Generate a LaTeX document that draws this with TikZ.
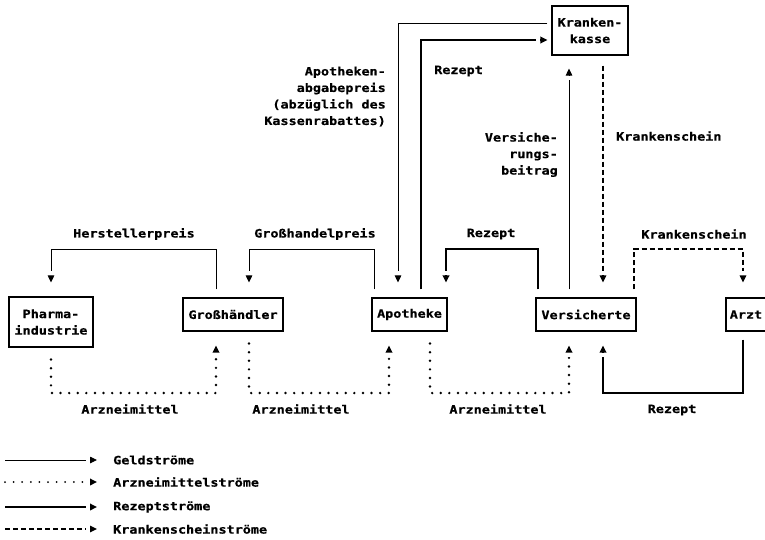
\documentclass[tikz,border=0pt]{standalone}
\usepackage{fontspec}
\newfontfamily\dmfont[FakeStretch=1.17,BoldFeatures={FakeBold=0.7}]{DejaVu Sans Mono}
\usetikzlibrary{arrows.meta}
\begin{document}
\begin{tikzpicture}[x=1pt,y=-1pt,
  every node/.style={font=\dmfont\bfseries\fontsize{11.5}{16.5}\selectfont},
  >={Rectangle[length=4pt,width=0.01pt,color=white] Triangle[length=7pt,width=6.5pt]},
  box/.style={draw,line width=1.1pt,inner sep=0pt,align=center},
  lbl/.style={inner sep=0pt},
  geld/.style={line width=0.9pt,->},
  rez/.style={line width=2.6pt,->},
  arz/.style={line width=2.7pt,line cap=round,dash pattern=on 0pt off 8.6pt,->},
  ks/.style={line width=1.3pt,dash pattern=on 5pt off 3pt,->}]
\useasboundingbox (0,0) rectangle (765,539);

% nodes
\node[box,minimum width=84pt,minimum height=50pt] (ph) at (51,322) {Pharma-\\industrie};
\node[box,minimum width=100pt,minimum height=33pt] (gh) at (233,314.5) {Großhändler};
\node[box,minimum width=75pt,minimum height=33pt] (ap) at (409.5,314.5) {Apotheke};
\node[box,minimum width=100pt,minimum height=33pt] (vs) at (586,314.5) {Versicherte};
\node[box,minimum width=40pt,minimum height=33pt] (az) at (746,314.5) {Arzt};
\node[box,minimum width=76pt,minimum height=49pt] (kk) at (590,30.5) {Kranken-\\kasse};

% helper columns / rows
\coordinate (c216) at (216,0);
\coordinate (c249) at (249,0);
\coordinate (c374) at (374,0);
\coordinate (c389) at (389,0);
\coordinate (c398) at (398,0);
\coordinate (c421) at (421,0);
\coordinate (c430) at (430,0);
\coordinate (c446) at (446,0);
\coordinate (c538) at (538,0);
\coordinate (c569) at (569,0);
\coordinate (c603) at (603,0);
\coordinate (c634) at (634,0);
\coordinate (c743) at (743,0);
\coordinate (r23) at (0,23);
\coordinate (r40) at (0,40);
\coordinate (r249) at (0,249);
\coordinate (r393) at (0,393);

% connectors
\draw[geld,shorten <=8pt,shorten >=14pt] (gh.north -| c216) -- (c216 |- r249) -| (ph.north);
\draw[geld,shorten <=8pt,shorten >=15pt] (ap.north -| c374) -- (c374 |- r249) -| (gh.north -| c249);
\draw[geld,shorten <=4pt,shorten >=15pt] (kk.west |- r23) -| (ap.north -| c398);
\draw[rez,shorten <=8pt,shorten >=4pt] (ap.north -| c421) |- (kk.west |- r40);
\draw[rez,shorten <=8pt,shorten >=15pt] (vs.north -| c538) -- (c538 |- r249) -| (ap.north -| c446);
\draw[geld,shorten <=8pt,shorten >=13pt] (vs.north -| c569) -- (kk.south -| c569);
\draw[ks,shorten <=10pt,shorten >=15pt] (kk.south -| c603) -- (vs.north -| c603);
\draw[ks,shorten <=8pt,shorten >=15pt] (vs.north -| c634) -- (c634 |- r249) -| (az.north -| c743);
\draw[rez,shorten <=8pt,shorten >=14pt] (az.south -| c743) -- (c743 |- r393) -| (vs.south -| c603);
\draw[arz,shorten <=12pt,shorten >=14pt] (ph.south) -- (ph.south |- r393) -| (gh.south -| c216);
\draw[arz,shorten <=12pt,shorten >=14pt] (gh.south -| c249) -- (c249 |- r393) -| (ap.south -| c389);
\draw[arz,shorten <=12pt,shorten >=14pt] (ap.south -| c430) -- (c430 |- r393) -| (vs.south -| c569);

% labels
\node[lbl] (lHP) at (134,234) {Herstellerpreis};
\node[lbl] (lGP) at (315,234) {Großhandelpreis};
\node[lbl] (lR1) at (491,234) {Rezept};
\node[lbl] (lKS2) at (694,234) {Krankenschein};
\node[lbl] (lA1) at (130,409) {Arzneimittel};
\node[lbl] (lA2) at (301,409) {Arzneimittel};
\node[lbl] (lA3) at (498,409) {Arzneimittel};
\node[lbl] (lR3) at (672,410) {Rezept};
\node[lbl,align=right,anchor=north east] (lAP) at (386,66.5) {Apotheken-\\abgabepreis\\(abzüglich des\\Kassenrabattes)};
\node[lbl,anchor=west] (lR2) at (434,71) {Rezept};
\node[lbl,align=right,anchor=north east] (lVB) at (558,132) {Versiche-\\rungs-\\beitrag};
\node[lbl,anchor=west] (lKS1) at (616,136) {Krankenschein};

% legend
\coordinate (g1) at (5,460); \coordinate (g2) at (97,460);
\coordinate (a1) at (5,482); \coordinate (a2) at (97,482);
\coordinate (p1) at (5,507); \coordinate (p2) at (97,507);
\coordinate (k1) at (5,529); \coordinate (k2) at (97,529);
\draw[geld] (g1) -- (g2);
\draw[arz,line width=2pt] (a1) -- (a2);
\draw[rez] (p1) -- (p2);
\draw[ks] (k1) -- (k2);
\node[lbl,anchor=west] (tg) at (113,460) {Geldströme};
\node[lbl,anchor=west] (ta) at (113,482) {Arzneimittelströme};
\node[lbl,anchor=west] (tp) at (113,507) {Rezeptströme};
\node[lbl,anchor=west] (tk) at (113,529) {Krankenscheinströme};
\end{tikzpicture}
\end{document}
